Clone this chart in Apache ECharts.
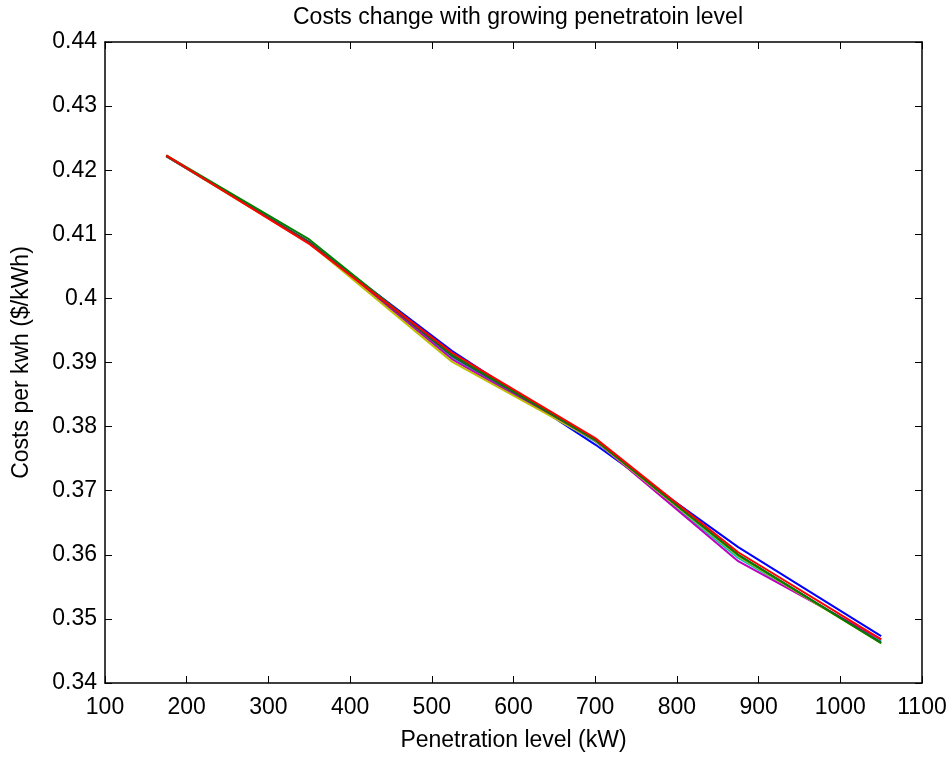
<!DOCTYPE html>
<html>
<head>
<meta charset="utf-8">
<script src="https://cdn.jsdelivr.net/npm/echarts@6/dist/echarts.min.js"></script>
<style>
  html, body { margin: 0; padding: 0; background: #fff; }
  #chart { width: 952px; height: 757px; }
</style>
</head>
<body>
<div id="chart"></div>
<script>
// penetration levels (kW)
const levels = [175, 350, 525, 700, 875, 1050]

// cost per kWh for each run
const seriesNames = ['blue', 'cyan', 'magenta', 'yellow', 'dark', 'green', 'red']
const seriesColors = ['#0000ff', '#00bfbf', '#bf00bf', '#bfbf00', '#404040', '#008000', '#ff0000']
const costBlue = [0.4222, 0.4087, 0.3918, 0.3772, 0.3612, 0.3473]
const costCyan = [0.4222, 0.4088, 0.3908, 0.3777, 0.3595, 0.3465]
const costMagenta = [0.4222, 0.4088, 0.3905, 0.3778, 0.3590, 0.3468]
const costYellow = [0.4222, 0.4086, 0.3901, 0.3778, 0.3598, 0.3462]
const costDark = [0.4222, 0.4088, 0.3910, 0.3779, 0.3600, 0.3463]
const costGreen = [0.4223, 0.4092, 0.3912, 0.3780, 0.3600, 0.3462]
const costRed = [0.4223, 0.4085, 0.3915, 0.3782, 0.3604, 0.3468]
const allCosts = [costBlue, costCyan, costMagenta, costYellow, costDark, costGreen, costRed]

const chart = echarts.init(document.getElementById('chart'))

const font = 'Liberation Sans, Arial, sans-serif'
const axisLine = { show: true, lineStyle: { color: '#000', width: 1.5 } }
const axisTick = { show: true, inside: true, length: 7, lineStyle: { color: '#000', width: 1 } }

const series = allCosts.map((vals, i) => ({
  name: seriesNames[i],
  type: 'line',
  data: levels.map((x, j) => [x, vals[j]]),
  showSymbol: false,
  lineStyle: { color: seriesColors[i], width: 2 },
  itemStyle: { color: seriesColors[i] },
  animation: false
}))

chart.setOption({
  backgroundColor: '#fff',
  animation: false,
  title: {
    text: 'Costs change with growing penetratoin level',
    left: 513,
    top: 1,
    textAlign: 'center',
    textStyle: { fontFamily: font, fontSize: 23, fontWeight: 'normal', color: '#000' }
  },
  grid: { left: 105, right: 30, top: 42, bottom: 72 },
  xAxis: [
    {
      type: 'value', min: 100, max: 1100, interval: 100,
      name: 'Penetration level (kW)', nameLocation: 'middle', nameGap: 46,
      nameTextStyle: { fontFamily: font, fontSize: 23, color: '#000' },
      axisLine, axisTick,
      axisLabel: { fontFamily: font, fontSize: 23, color: '#000', margin: 13, formatter: v => String(v) },
      splitLine: { show: false }
    },
    {
      type: 'value', min: 100, max: 1100, interval: 100, position: 'top',
      axisLine, axisTick, axisLabel: { show: false }, splitLine: { show: false }
    }
  ],
  yAxis: [
    {
      type: 'value', min: 0.34, max: 0.44, interval: 0.01,
      name: 'Costs per kwh ($/kWh)', nameLocation: 'middle', nameGap: 72,
      nameTextStyle: { fontFamily: font, fontSize: 23, color: '#000' },
      axisLine, axisTick,
      axisLabel: {
        fontFamily: font, fontSize: 23, color: '#000', margin: 8,
        formatter: v => String(+v.toFixed(2))
      },
      splitLine: { show: false }
    },
    {
      type: 'value', min: 0.34, max: 0.44, interval: 0.01, position: 'right',
      axisLine, axisTick, axisLabel: { show: false }, splitLine: { show: false }
    }
  ],
  series
})
</script>
</body>
</html>
